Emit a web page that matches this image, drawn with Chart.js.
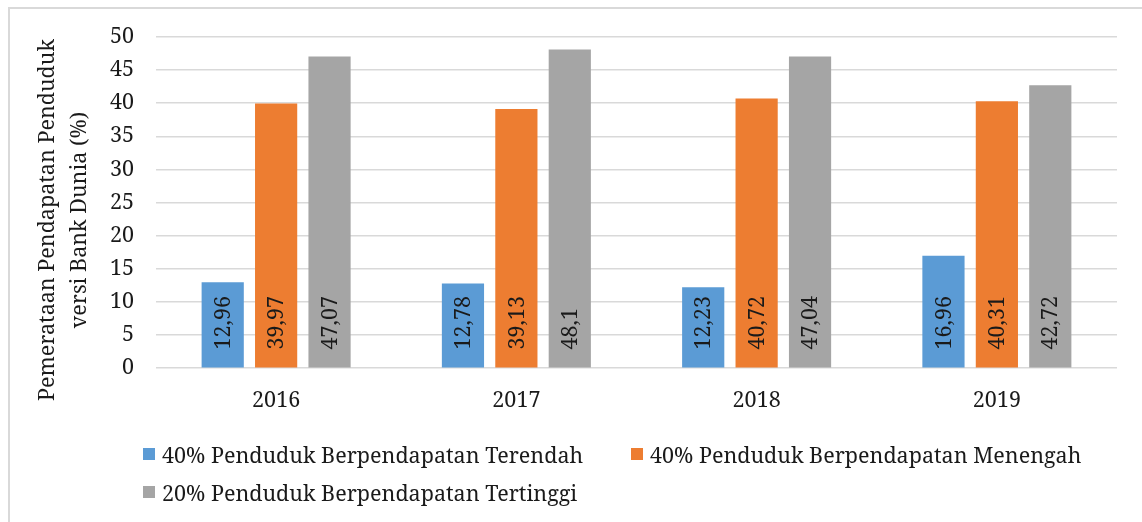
<!DOCTYPE html>
<html>
<head>
<meta charset="utf-8">
<title>Pemerataan Pendapatan Penduduk</title>
<script src="https://cdn.jsdelivr.net/npm/chart.js@4/dist/chart.umd.min.js"></script>
<style>
  body { margin: 0; background: #fff; }
  #wrap { position: relative; width: 1142px; height: 522px; overflow: hidden; }
  #frame { position: absolute; left: 8px; top: 7px; width: 1200px; height: 600px;
           border-top: 2px solid #d9d9d9; border-left: 2px solid #d9d9d9; }
  #c { position: absolute; left: 0; top: 0; }
  #legend { position: absolute; left: 143px; top: 435px; display: grid;
            grid-template-columns: 488px auto; grid-auto-rows: 38px;
            font: 21.5px "Noto Serif", serif; color: #1a1a1a; }
  #legend .item { display: flex; align-items: center; white-space: nowrap; }
  #legend .box { width: 12px; height: 12px; margin-right: 7px; flex: none; }
</style>
</head>
<body>
<div id="wrap">
  <div id="frame"></div>
  <canvas id="c" width="1142" height="522"></canvas>
  <div id="legend"></div>
</div>
<script>
// ---- Datos (Bank Dunia, %) ----
var tahun = ['2016', '2017', '2018', '2019'];
var terendah = [12.96, 12.78, 12.23, 16.96];   // 40% berpendapatan terendah
var menengah = [39.97, 39.13, 40.72, 40.31];   // 40% berpendapatan menengah
var tertinggi = [47.07, 48.1, 47.04, 42.72];   // 20% berpendapatan tertinggi
var namaSeri = [
  '40% Penduduk Berpendapatan Terendah',
  '40% Penduduk Berpendapatan Menengah',
  '20% Penduduk Berpendapatan Tertinggi'
];
var yTicks = [0, 5, 10, 15, 20, 25, 30, 35, 40, 45, 50];
var judulY = ['Pemerataan Pendapatan Penduduk', 'versi Bank Dunia (%)'];

var biru = '#5b9bd5';
var oranye = '#ed7d31';
var abu = '#a5a5a5';
var FONT = '"Noto Serif", serif';
var teks = '#1a1a1a';

function fmt(v) {
  return String(v).replace('.', ',');
}

// label nilai diputar di dalam batang
var labelBatang = {
  id: 'labelBatang',
  afterDatasetsDraw: function (chart) {
    var ctx = chart.ctx;
    ctx.save();
    ctx.font = '21.5px ' + FONT;
    ctx.fillStyle = teks;
    ctx.textAlign = 'left';
    ctx.textBaseline = 'middle';
    chart.data.datasets.forEach(function (ds, i) {
      chart.getDatasetMeta(i).data.forEach(function (bar, j) {
        ctx.save();
        ctx.translate(bar.x, bar.base - 18);
        ctx.rotate(-Math.PI / 2);
        ctx.fillText(fmt(ds.data[j]), 0, 1);
        ctx.restore();
      });
    });
    ctx.restore();
  }
};

// judul sumbu Y dua baris
var judulSumbu = {
  id: 'judulSumbu',
  afterDraw: function (chart) {
    var ctx = chart.ctx;
    ctx.save();
    ctx.font = '21.5px ' + FONT;
    ctx.fillStyle = teks;
    ctx.textAlign = 'center';
    ctx.textBaseline = 'middle';
    judulY.forEach(function (t, i) {
      ctx.save();
      ctx.translate(48 + i * 32, 220);
      ctx.rotate(-Math.PI / 2);
      ctx.fillText(t, 0, 0);
      ctx.restore();
    });
    ctx.restore();
  }
};

var chart = new Chart(document.getElementById('c'), {
  type: 'bar',
  data: {
    labels: tahun,
    datasets: [
      { label: namaSeri[0], data: terendah, backgroundColor: biru },
      { label: namaSeri[1], data: menengah, backgroundColor: oranye },
      { label: namaSeri[2], data: tertinggi, backgroundColor: abu }
    ]
  },
  options: {
    responsive: false,
    animation: false,
    layout: { padding: { top: 37, right: 25, bottom: 96, left: 0 } },
    datasets: { bar: { categoryPercentage: 0.667, barPercentage: 0.79 } },
    plugins: {
      legend: { display: false },
      tooltip: { enabled: false }
    },
    scales: {
      x: {
        grid: { display: false },
        border: { display: false },
        ticks: { color: teks, padding: 12, font: { family: FONT, size: 21.5 } }
      },
      y: {
        min: 0,
        max: 50,
        afterFit: function (s) { s.width = 156; },
        afterBuildTicks: function (s) {
          s.ticks = yTicks.map(function (v) { return { value: v }; });
        },
        grid: { color: '#d9d9d9', lineWidth: 1.5, drawTicks: false },
        border: { display: false },
        ticks: { color: teks, padding: 22, font: { family: FONT, size: 21.5 } }
      }
    }
  },
  plugins: [labelBatang, judulSumbu]
});

// legenda HTML
var legend = document.getElementById('legend');
chart.data.datasets.forEach(function (ds) {
  var item = document.createElement('div');
  item.className = 'item';
  var box = document.createElement('span');
  box.className = 'box';
  box.style.background = ds.backgroundColor;
  var label = document.createElement('span');
  label.textContent = ds.label;
  item.appendChild(box);
  item.appendChild(label);
  legend.appendChild(item);
});
</script>
</body>
</html>
